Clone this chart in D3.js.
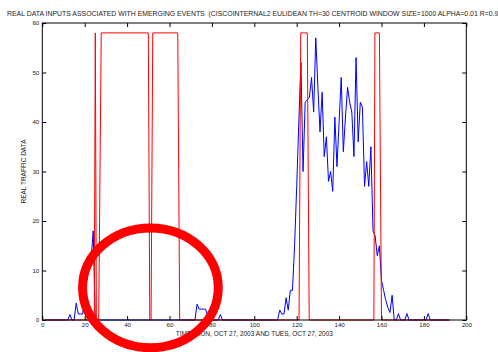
<!DOCTYPE html>
<html>
<head>
<meta charset="utf-8">
<script src="https://cdn.jsdelivr.net/npm/d3@7"></script>
<style>
    body { margin: 0; background: #fff; }
    text { font-family: "Liberation Sans", Arial, Helvetica, sans-serif; fill: #222; }
</style>
</head>
<body>
<div id="vis"></div>
<script>

// blue series, one value per sample (x = 1..192)
var traffic = [
    0,0,0,0,0,0,0,0,0,0,0,0,
    1.1,0,0,3.4,1.2,1.2,1.2,4.5,8,11,12,18,
    0,0,0,0,0,0,0,0,0,0,0,0,
    0,0,0,0,0,0,0,0,0,0,0,0,
    0,0,0,0,0,0,0,0,0,0,0,0,
    0,0,0,0,0,0,0,0,0,0,0,0,
    3.2,2.2,2.2,2.2,2.2,1,0,0,0,0,0,1.1,
    0,0,0,0,0,0,0,0,0,0,0,0,
    0,0,0,0,0,0,0,0,0,0,0,0,
    0,0,0,2,1.2,1.2,4.5,2,6,6,15,27,
    40,52,30,44,44.5,45,49,42,57,47,38,46,
    33,37,28,30,26,41,31,40,49,34,41,47,
    44,42,33,53,36,44,43,27,32,27,35,18,
    17,13,15,8,6,4,2.5,1.5,5,0,0,1.3,
    0,0,0,1.3,0,0,0,0,0,0,0,0,
    0,1.3,0,0,0,0,0,0,0,0,0,0
];

// red event indicator (vertices)
var eventX = [1, 24.5, 25.0, 25.5, 26.6, 27.8, 50.0, 50.7, 51.3, 52.1, 63.9, 64.8,
              121.1, 121.9, 125.0, 125.9, 156.4, 156.9, 159.0, 160.0, 192];
var eventY = [0, 0, 58, 0, 0, 58, 58, 0, 0, 58, 58, 0,
              0, 58, 58, 0, 0, 58, 58, 0, 0];

var xTicks = [0, 20, 40, 60, 80, 100, 120, 140, 160, 180, 200];
var yTicks = [0, 10, 20, 30, 40, 50, 60];

var titleText = "REAL DATA INPUTS ASSOCIATED WITH EMERGING EVENTS  (CISCOINTERNAL2 EULIDEAN TH=30 CENTROID WINDOW SIZE=1000 ALPHA=0.01 R=0.99)";
var xLabel = "TIME: MON, OCT 27, 2003 AND TUES, OCT 27, 2003";
var yLabel = "REAL TRAFFIC DATA";

// hand drawn circle around the quiet region, in data units
var circleAt = {cx: 51, cy: 6.5, rx: 32, ry: 12.1};

var w = 498, h = 352;
// plot box (don't use "top" here, window.top is read only)
var pLeft = 42.3, pRight = 466.3, pTop = 23, pBottom = 320;

var x = d3.scaleLinear().domain([0, 200]).range([pLeft, pRight]);
var y = d3.scaleLinear().domain([0, 60]).range([pBottom, pTop]);

var svg = d3.select("#vis").append("svg")
    .attr("width", w)
    .attr("height", h);

// blue traffic line
var line = d3.line()
    .x(function(d, i) { return x(i + 1); })
    .y(function(d) { return y(d); });

svg.append("path")
    .datum(traffic)
    .attr("d", line)
    .attr("fill", "none")
    .attr("stroke", "#0000ff")
    .attr("stroke-width", 1);

// red events on top
var evLine = d3.line()
    .x(function(d) { return x(d); })
    .y(function(d, i) { return y(eventY[i]); });

svg.append("path")
    .datum(eventX)
    .attr("d", evLine)
    .attr("fill", "none")
    .attr("stroke", "#ff0000")
    .attr("stroke-width", 1);

// axes box
svg.append("rect")
    .attr("x", pLeft).attr("y", pTop)
    .attr("width", pRight - pLeft).attr("height", pBottom - pTop)
    .attr("fill", "none").attr("stroke", "#000").attr("stroke-width", 1);

// ticks inward on all four sides
var tl = 4;
svg.append("g").attr("transform", "translate(0," + pBottom + ")")
    .call(d3.axisBottom(x).tickValues(xTicks).tickSize(-tl).tickPadding(3))
    .call(function(g) { g.select(".domain").remove(); });
svg.append("g").attr("transform", "translate(0," + pTop + ")")
    .call(d3.axisTop(x).tickValues(xTicks).tickSize(-tl).tickFormat(""))
    .call(function(g) { g.select(".domain").remove(); });
svg.append("g").attr("transform", "translate(" + pLeft + ",0)")
    .call(d3.axisLeft(y).tickValues(yTicks).tickSize(-tl).tickPadding(3))
    .call(function(g) { g.select(".domain").remove(); });
svg.append("g").attr("transform", "translate(" + pRight + ",0)")
    .call(d3.axisRight(y).tickValues(yTicks).tickSize(-tl).tickFormat(""))
    .call(function(g) { g.select(".domain").remove(); });

svg.selectAll(".tick line").attr("stroke", "#000");
svg.selectAll(".tick text")
    .style("font-size", "6.2px")
    .style("font-family", "Liberation Sans, Arial, sans-serif")
    .attr("fill", "#222");

// title, runs off the right edge like the original
svg.append("text")
    .attr("x", 7).attr("y", 16)
    .style("font-size", "6.9px")
    .style("white-space", "pre")
    .text(titleText);

svg.append("text")
    .attr("x", (pLeft + pRight) / 2).attr("y", 336)
    .attr("text-anchor", "middle")
    .style("font-size", "6.5px")
    .text(xLabel);

svg.append("text")
    .attr("transform", "translate(26," + ((pTop + pBottom) / 2) + ")rotate(-90)")
    .attr("text-anchor", "middle")
    .style("font-size", "6.5px")
    .text(yLabel);

// annotation ellipse
svg.append("ellipse")
    .attr("cx", x(circleAt.cx))
    .attr("cy", y(circleAt.cy))
    .attr("rx", x(circleAt.rx) - x(0))
    .attr("ry", y(0) - y(circleAt.ry))
    .attr("fill", "none")
    .attr("stroke", "#ff0000")
    .attr("stroke-width", 9);

</script>
</body>
</html>
